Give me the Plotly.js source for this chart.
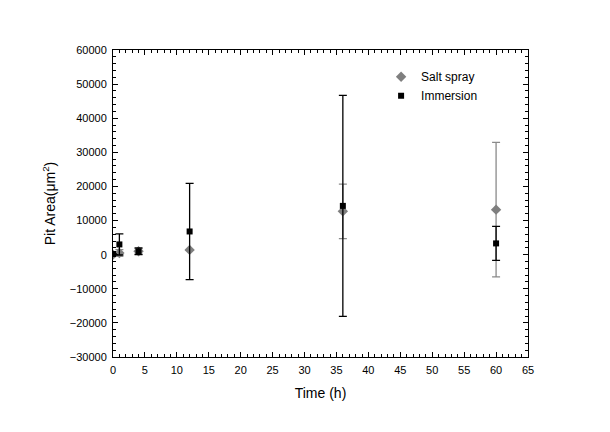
<!DOCTYPE html>
<html><head><meta charset="utf-8">
<script src="https://cdn.plot.ly/plotly-3.0.1.min.js"></script>
<style>body{margin:0;background:#fff}#c{width:610px;height:432px}</style>
</head><body><div id="c"></div>
<script>
const saltTime = [0, 1, 4, 12, 36, 60];
const saltArea = [0, 500, 1000, 1400, 12700, 13200];
const saltErr  = [0, 1000, 800, 0, 8000, 19700];
const immTime = [0, 1, 4, 12, 36, 60];
const immArea = [200, 3000, 1000, 6800, 14300, 3300];
const immErr  = [0, 3100, 1000, 14100, 32400, 5000];

const FONT = 'Liberation Sans, Arial, sans-serif';
const traces = [
  {x: saltTime, y: saltArea, name: 'Salt spray', type: 'scatter', mode: 'markers',
   marker: {symbol: 'diamond', size: 8, color: '#7f7f7f'},
   error_y: {type: 'data', array: saltErr, visible: true, color: '#8a8a8a', thickness: 1.3, width: 4}},
  {x: immTime, y: immArea, name: 'Immersion', type: 'scatter', mode: 'markers',
   marker: {symbol: 'square', size: 6, color: '#000000'},
   error_y: {type: 'data', array: immErr, visible: true, color: '#000000', thickness: 1.3, width: 4}}
];
const ax = {showline: true, linecolor: '#000', linewidth: 1, mirror: 'ticks', ticks: 'inside',
  ticklen: 5, tickcolor: '#000', showgrid: false, zeroline: false, ticklabelstandoff: 3,
  tickfont: {family: FONT, size: 11, color: '#000'}};
const layout = {
  width: 610, height: 432, paper_bgcolor: '#fff', plot_bgcolor: '#fff',
  margin: {l: 113, r: 82, t: 50, b: 75},
  showlegend: true,
  legend: {x: 0.646, y: 0.96, xanchor: 'left', yanchor: 'top', bgcolor: 'rgba(0,0,0,0)',
    font: {family: FONT, size: 12, color: '#000'}, tracegroupgap: 0},
  xaxis: Object.assign({}, ax, {range: [0, 65], dtick: 5, tick0: 0,
    minor: {dtick: 1, ticks: 'inside', ticklen: 3, tickcolor: '#000'},
    title: {text: 'Time (h)', font: {family: FONT, size: 14, color: '#000'}, standoff: 12}}),
  yaxis: Object.assign({}, ax, {range: [-30000, 60000], dtick: 10000, tick0: 0, tickformat: 'd',
    minor: {dtick: 2000, ticks: 'inside', ticklen: 3, tickcolor: '#000'},
    title: {text: 'Pit Area(μm<sup>2</sup>)', font: {family: FONT, size: 14, color: '#000'}, standoff: 10}})
};
Plotly.newPlot('c', traces, layout, {displayModeBar: false, staticPlot: true});
</script></body></html>
